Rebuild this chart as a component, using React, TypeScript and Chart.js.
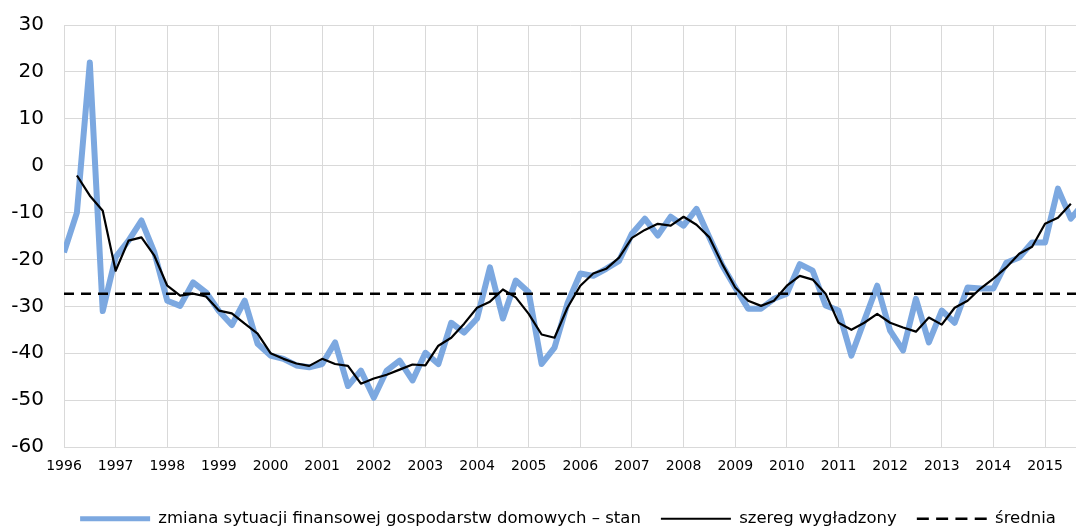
import React, { useEffect, useRef } from "react";
import { Chart, registerables } from "chart.js";

Chart.register(...registerables);

const startYear = 1996;
const yearTicks = [1996, 1997, 1998, 1999, 2000, 2001, 2002, 2003, 2004, 2005, 2006, 2007, 2008, 2009, 2010, 2011, 2012, 2013, 2014, 2015];
const yTicks = [30, 20, 10, 0, -10, -20, -30, -40, -50, -60];

// quarterly values, 1996 Q1 .. 2015 Q4
const stan = [
  -18.5, -10, 22, -31,
  -19.5, -16, -11.7, -18.5,
  -28.8, -29.9, -24.9, -27,
  -31, -34, -28.8, -38,
  -40.5, -41.2, -42.6, -43,
  -42.3, -37.7, -47, -43.7,
  -49.5, -43.7, -41.6, -45.8,
  -39.9, -42.3, -33.5, -35.6,
  -32.6, -21.7, -32.6, -24.5,
  -27, -42.3, -38.8, -29.4,
  -23, -23.5, -22, -20.3,
  -14.5, -11.3, -14.9, -10.9,
  -12.8, -9.2, -15.3, -21.3,
  -26, -30.5, -30.5, -28.4,
  -27.3, -21, -22.4, -29.8,
  -30.9, -40.5, -33, -25.6,
  -35.2, -39.4, -28.4, -37.7,
  -30.9, -33.5, -26, -26.2,
  -26.2, -20.7, -19.6, -16.4,
  -16.4, -4.9, -11.3, -8,
];

const wygladzony = [
  null, -2.1, -6.4, -9.6,
  -22.4, -16, -15.3, -19.2,
  -25.6, -27.7, -27.3, -27.9,
  -30.9, -31.5, -33.7, -35.8,
  -40, -41.2, -42.2, -42.7,
  -41.2, -42.3, -42.7, -46.5,
  -45.4, -44.6, -43.5, -42.4,
  -42.6, -38.4, -36.7, -33.7,
  -30.3, -29, -26.4, -28.1,
  -31.6, -36, -36.7, -30.3,
  -25.6, -23, -22, -19.6,
  -15.4, -13.7, -12.4, -12.8,
  -10.9, -12.6, -15.3, -21,
  -26, -28.8, -29.9, -28.8,
  -25.6, -23.5, -24.3, -27.3,
  -33.5, -35, -33.5, -31.6,
  -33.5, -34.5, -35.4, -32.4,
  -33.9, -30.3, -28.8, -26.2,
  -24.1, -21.7, -18.8, -17.3,
  -12.4, -11.1, -8.1, null,
];

const srednia = -27.3;

const labels = [
  "zmiana sytuacji finansowej gospodarstw domowych – stan",
  "szereg wygładzony",
  "średnia",
];

const FONT = "'DejaVu Sans', Tahoma, sans-serif";

const legendShift = {
  id: "legendShift",
  afterLayout(chart: any) {
    const lg = chart.legend;
    if (lg) lg.left += 60;
  },
};

export default function App() {
  const ref = useRef<HTMLCanvasElement>(null);
  useEffect(() => {
    if (!ref.current) return;
    const qx = (i: number) => startYear + i / 4;
    const chart = new Chart(ref.current, {
      type: "line",
      plugins: [legendShift],
      data: {
        datasets: [
          {
            label: labels[0],
            data: stan.map((v, i) => ({ x: qx(i), y: v })),
            borderColor: "#7CA8E0",
            backgroundColor: "#7CA8E0",
            borderWidth: 6,
            borderJoinStyle: "round",
            pointRadius: 0,
            tension: 0,
            order: 3,
          },
          {
            label: labels[1],
            data: wygladzony.map((v, i) => ({ x: qx(i), y: v })),
            borderColor: "#000000",
            backgroundColor: "#000000",
            borderWidth: 2.2,
            borderJoinStyle: "round",
            pointRadius: 0,
            tension: 0,
            order: 1,
          },
          {
            label: labels[2],
            data: [
              { x: yearTicks[0], y: srednia },
              { x: yearTicks[yearTicks.length - 1] + 1, y: srednia },
            ],
            borderColor: "#000000",
            backgroundColor: "#000000",
            borderWidth: 2.5,
            borderDash: [10, 7],
            pointRadius: 0,
            tension: 0,
            order: 2,
          },
        ],
      },
      options: {
        responsive: false,
        animation: false,
        layout: { padding: { top: 25, right: 0, left: 0, bottom: 0 } },
        plugins: {
          tooltip: { enabled: false },
          legend: {
            position: "bottom",
            labels: {
              usePointStyle: true,
              pointStyleWidth: 70,
              boxHeight: 6,
              padding: 20,
              color: "#000",
              font: { family: FONT, size: 16.5 },
              generateLabels: (c: any) =>
                c.data.datasets.map((ds: any, i: number) => ({
                  text: ds.label,
                  fillStyle: ds.borderColor,
                  strokeStyle: ds.borderColor,
                  lineWidth: i === 0 ? 5 : ds.borderWidth,
                  lineDash: ds.borderDash ? [12, 7.3] : [],
                  lineCap: "butt",
                  pointStyle: "line",
                  hidden: false,
                  datasetIndex: i,
                  fontColor: "#000",
                })),
            },
          },
        },
        scales: {
          x: {
            type: "linear",
            min: 1996,
            max: 2015.6,
            afterBuildTicks: (axis: any) => {
              axis.ticks = yearTicks.map((v) => ({ value: v }));
            },
            afterFit: (axis: any) => {
              axis.height = 43.5;
            },
            grid: { color: "#D9D9D9", lineWidth: 1, drawTicks: false },
            border: { color: "#D9D9D9" },
            ticks: {
              color: "#000",
              font: { family: FONT, size: 14 },
              padding: 11,
              maxRotation: 0,
              autoSkip: false,
              callback: (v: any) => String(v),
            },
          },
          y: {
            min: -60,
            max: 30,
            afterBuildTicks: (axis: any) => {
              axis.ticks = yTicks.map((v) => ({ value: v }));
            },
            afterFit: (axis: any) => {
              axis.width = 64;
            },
            grid: { color: "#D9D9D9", lineWidth: 1, drawTicks: true, tickLength: 20, tickColor: "rgba(0,0,0,0)" },
            border: { color: "#D9D9D9" },
            ticks: {
              color: "#000",
              font: { family: FONT, size: 20 },
              padding: 0,
            },
          },
        },
      },
    });
    return () => chart.destroy();
  }, []);
  return (
    <div style={{ position: "fixed", left: 0, top: 0, width: 1076, height: 532, overflow: "hidden", background: "#fff" }}>
      <canvas ref={ref} width={1076} height={537} />
    </div>
  );
}
